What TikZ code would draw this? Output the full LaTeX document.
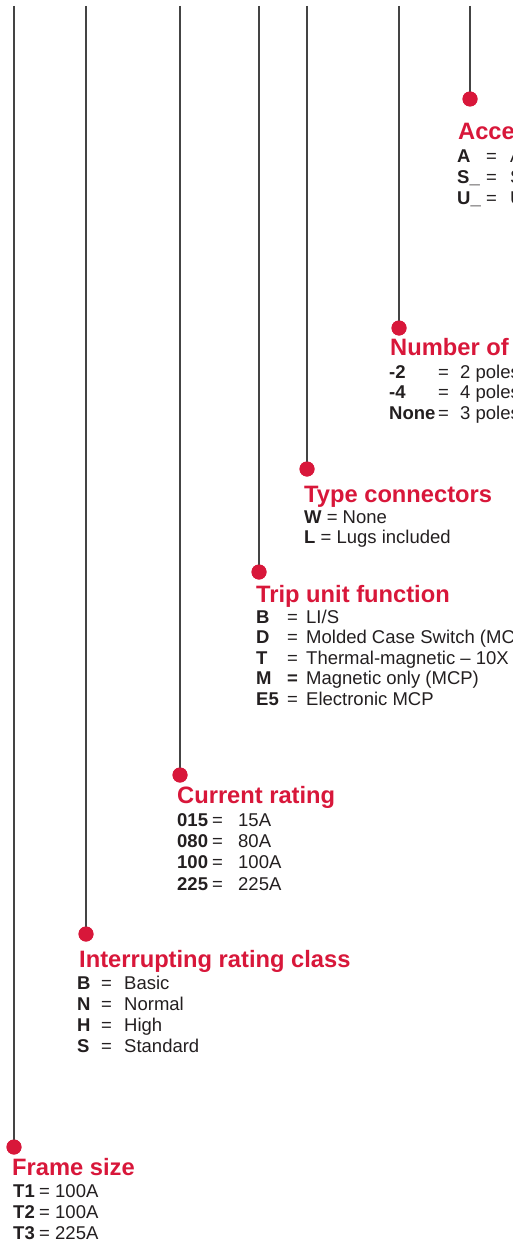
\documentclass[tikz,border=0pt]{standalone}
\usepackage{fontspec}
\setmainfont{Liberation Sans}
\definecolor{brandred}{HTML}{D8173A}
\definecolor{txt}{HTML}{231F20}
\definecolor{linegray}{HTML}{444444}
\begin{document}
\begin{tikzpicture}[x=1pt,y=-1pt,
  dot/.style={circle,fill=brandred,minimum size=15pt,inner sep=0pt},
  lead/.style={draw=linegray,line width=1.2pt},
  ttl/.style={anchor=base west,inner sep=0pt,text=brandred,font=\fontsize{23.7}{26}\selectfont\bfseries},
  itm/.style={anchor=base west,inner sep=0pt,text=txt,font=\fontsize{18.5}{21}\selectfont},
]
\useasboundingbox (0,0) rectangle (513,1241);
\clip (0,0) rectangle (513,1241);

% top ends of the leader lines
\coordinate (t1) at (14,6);
\coordinate (t2) at (86,6);
\coordinate (t3) at (180,6);
\coordinate (t4) at (259,6);
\coordinate (t5) at (307,6);
\coordinate (t6) at (399,6);
\coordinate (t7) at (470,6);

% dots
\node[dot] (d1) at (14,1147) {};
\node[dot] (d2) at (86,934) {};
\node[dot] (d3) at (180,775) {};
\node[dot] (d4) at (259,572) {};
\node[dot] (d5) at (307,469) {};
\node[dot] (d6) at (399,328) {};
\node[dot] (d7) at (470,99) {};

\foreach \i in {1,...,7} \draw[lead] (t\i) -- (d\i.center);
\foreach \i in {1,...,7} \node[dot] at (d\i) {};

% Accessories
\node[ttl] (acc) at (458,140) {Accessories};
\node[itm] (acc1) at (457,163) {\makebox[29pt][l]{\textbf{A}}\makebox[24pt][l]{=}Auxiliary contact};
\node[itm] (acc2) at (457,184) {\makebox[29pt][l]{\textbf{S\_}}\makebox[24pt][l]{=}Shunt trip};
\node[itm] (acc3) at (457,205) {\makebox[29pt][l]{\textbf{U\_}}\makebox[24pt][l]{=}Undervoltage release};

% Number of poles
\node[ttl] (pol) at (390,355) {Number of poles};
\node[itm] (pol1) at (389,378) {\makebox[49pt][l]{\textbf{-2}}\makebox[22pt][l]{=}2 poles};
\node[itm] (pol2) at (389,398.5) {\makebox[49pt][l]{\textbf{-4}}\makebox[22pt][l]{=}4 poles};
\node[itm] (pol3) at (389,419) {\makebox[49pt][l]{\textbf{None}}\makebox[22pt][l]{=}3 poles};

% Type connectors
\node[ttl] (con) at (304,502) {Type connectors};
\node[itm] (con1) at (304,523) {\textbf{W} = None};
\node[itm] (con2) at (304,543) {\textbf{L} = Lugs included};

% Trip unit function
\node[ttl] (trip) at (256,602) {Trip unit function};
\node[itm] (trip1) at (256,623) {\makebox[31pt][l]{\textbf{B}}\makebox[19pt][l]{=}LI/S};
\node[itm] (trip2) at (256,643.6) {\makebox[31pt][l]{\textbf{D}}\makebox[19pt][l]{=}Molded Case Switch (MCS)};
\node[itm] (trip3) at (256,664.2) {\makebox[31pt][l]{\textbf{T}}\makebox[19pt][l]{=}Thermal-magnetic – 10X};
\node[itm] (trip4) at (256,684.8) {\makebox[31pt][l]{\textbf{M}}\makebox[19pt][l]{\textbf{=}}Magnetic only (MCP)};
\node[itm] (trip5) at (256,705.4) {\makebox[31pt][l]{\textbf{E5}}\makebox[19pt][l]{=}Electronic MCP};

% Current rating
\node[ttl] (cur) at (177,803) {Current rating};
\node[itm] (cur1) at (177,826) {\makebox[35pt][l]{\textbf{015}}\makebox[26pt][l]{=}15A};
\node[itm] (cur2) at (177,847.3) {\makebox[35pt][l]{\textbf{080}}\makebox[26pt][l]{=}80A};
\node[itm] (cur3) at (177,868.6) {\makebox[35pt][l]{\textbf{100}}\makebox[26pt][l]{=}100A};
\node[itm] (cur4) at (177,890) {\makebox[35pt][l]{\textbf{225}}\makebox[26pt][l]{=}225A};

% Interrupting rating class
\node[ttl] (irc) at (79,967) {Interrupting rating class};
\node[itm] (irc1) at (77,989) {\makebox[24pt][l]{\textbf{B}}\makebox[23pt][l]{=}Basic};
\node[itm] (irc2) at (77,1010) {\makebox[24pt][l]{\textbf{N}}\makebox[23pt][l]{=}Normal};
\node[itm] (irc3) at (77,1031) {\makebox[24pt][l]{\textbf{H}}\makebox[23pt][l]{=}High};
\node[itm] (irc4) at (77,1052) {\makebox[24pt][l]{\textbf{S}}\makebox[23pt][l]{=}Standard};

% Frame size
\node[ttl] (frm) at (12,1175) {Frame size};
\node[itm] (frm1) at (13,1197) {\makebox[26pt][l]{\textbf{T1}}\makebox[16pt][l]{=}100A};
\node[itm] (frm2) at (13,1218) {\makebox[26pt][l]{\textbf{T2}}\makebox[16pt][l]{=}100A};
\node[itm] (frm3) at (13,1239) {\makebox[26pt][l]{\textbf{T3}}\makebox[16pt][l]{=}225A};
\end{tikzpicture}
\end{document}
